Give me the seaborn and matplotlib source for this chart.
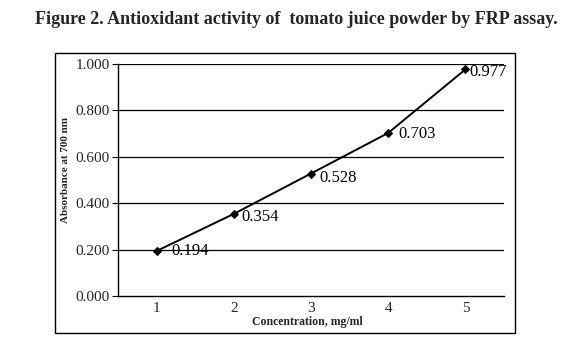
import matplotlib
matplotlib.use("Agg")
import matplotlib.pyplot as plt
import seaborn as sns
import pandas as pd
from matplotlib.patches import Rectangle

concentration = [1, 2, 3, 4, 5]
absorbance = [0.194, 0.354, 0.528, 0.703, 0.977]
y_ticks = [0.0, 0.2, 0.4, 0.6, 0.8, 1.0]

# label offsets (pixels right, pixels down) from each point
label_offsets_px = [(15, 0), (8, 3), (8, 4), (10, 1), (4, 3)]

df = pd.DataFrame({"Concentration": concentration, "Absorbance": absorbance})

sns.set_theme(style="white")
plt.rcParams["font.family"] = ["Liberation Serif", "DejaVu Serif"]

fig = plt.figure(figsize=(5.79, 3.53), dpi=100)
ax = fig.add_axes([0.2038, 0.1615, 0.6667, 0.657])

sns.lineplot(data=df, x="Concentration", y="Absorbance", ax=ax, color="black",
             linewidth=1.4, marker="D", markersize=4, markeredgecolor="black",
             markerfacecolor="black", zorder=3)

for (xv, yv), (dx, dy) in zip(zip(concentration, absorbance), label_offsets_px):
    ax.annotate(f"{yv:.3f}", (xv, yv), xytext=(dx * 0.72, -dy * 0.72), textcoords="offset points",
                fontsize=12, color="black", ha="left", va="center", zorder=4)

ax.set_xlim(0.5, 5.5)
ax.set_ylim(0, 1.0)
ax.set_yticks(y_ticks)
ax.set_yticklabels([f"{v:.3f}" for v in y_ticks], fontsize=11)
ax.set_xticks(concentration)
ax.set_xticklabels([str(c) for c in concentration], fontsize=11)
ax.set_xticks([1.5, 2.5, 3.5, 4.5], minor=True)
ax.tick_params(axis="x", which="major", length=0, pad=4)
ax.tick_params(axis="x", which="minor", length=4, width=0.8, direction="out", color="black")
ax.tick_params(axis="y", which="major", length=4, width=0.8, direction="out", color="black", left=True, pad=2)

for v in y_ticks[1:]:
    ax.axhline(v, color="black", linewidth=0.9, zorder=1)

for s in ["top", "right"]:
    ax.spines[s].set_visible(False)
for s in ["left", "bottom"]:
    ax.spines[s].set_color("black")
    ax.spines[s].set_linewidth(1.0)

ax.set_xlabel("Concentration, mg/ml", fontsize=8.5, fontweight="bold")
ax.set_ylabel("Absorbance at 700 nm", fontsize=8, fontweight="bold")
ax.xaxis.set_label_coords(0.49, -0.085)
ax.yaxis.set_label_coords(-0.137, 0.543)
ax.xaxis.label.set_va("top")
ax.yaxis.label.set_va("center")

fig.add_artist(Rectangle((55 / 579, 1 - 333 / 353), (515 - 55) / 579, (333 - 52.5) / 353,
                         transform=fig.transFigure, fill=False, edgecolor="black", linewidth=1.0))

fig.text(0.512, 1 - 20 / 353, "Figure 2. Antioxidant activity of  tomato juice powder by FRP assay.",
         ha="center", va="center", fontsize=13, fontweight="bold")

fig.savefig("out.png", dpi=100, facecolor="white")
